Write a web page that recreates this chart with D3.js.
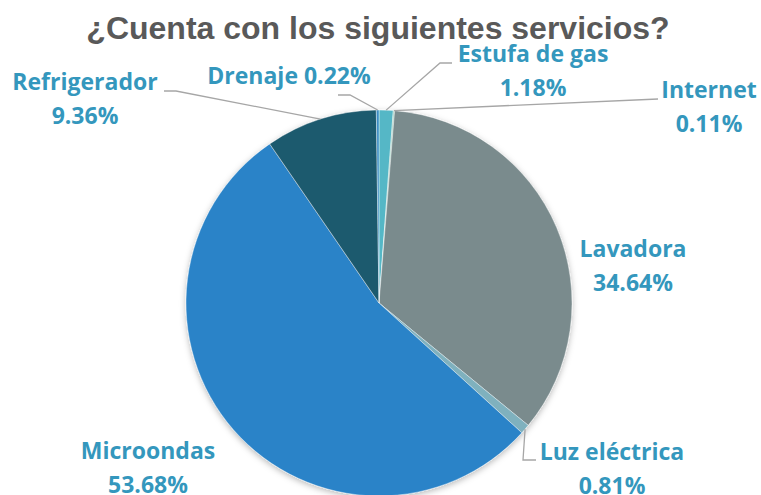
<!DOCTYPE html>
<html lang="es">
<head>
<meta charset="UTF-8">
<title>¿Cuenta con los siguientes servicios?</title>
<script src="https://d3js.org/d3.v7.min.js"></script>
<style>
    body { margin: 0; padding: 0; background: #fff; }
    svg { display: block; }
    .lbl { font-family: 'Open Sans', Lato, sans-serif; font-weight: 700; font-size: 23px; fill: #3497bd; }
    .title { font-family: 'Liberation Sans', Arial, sans-serif; font-weight: 700; font-size: 32px; fill: #595959; }
</style>
</head>
<body>
<div id="chart"></div>
<script>
// data
var categories = ["Estufa de gas", "Internet", "Lavadora", "Luz eléctrica", "Microondas", "Refrigerador", "Drenaje"];
var values = [1.18, 0.11, 34.64, 0.81, 53.68, 9.36, 0.22];
var sliceColors = ["#55b7c6", "#9fd0c2", "#7a8b8d", "#7fb1be", "#2983c8", "#1f5a6e", "#3a8dc4"];

var width = 761, height = 495;
var cx = 379, cy = 303, radius = 193;

// label layout: x, baseline of first line, two lines?, leader elbow points
var labelPos = {
    "Estufa de gas": { x: 533, y: 62, split: true, elbow: [[440, 63], [452, 63]] },
    "Internet":      { x: 709, y: 98, split: true, elbow: [[658, 99]] },
    "Lavadora":      { x: 633, y: 257, split: true, elbow: null },
    "Luz eléctrica": { x: 612, y: 460, split: true, elbow: [[523, 460], [536, 460]] },
    "Microondas":    { x: 148, y: 459, split: true, elbow: null },
    "Refrigerador":  { x: 85, y: 90, split: true, elbow: [[176, 91], [164, 91]] },
    "Drenaje":       { x: 289, y: 84, split: false, elbow: [[350, 95], [338, 95]] }
};

var data = categories.map(function(c, i) { return { name: c, value: values[i] }; });

var svg = d3.select("#chart").append("svg")
    .attr("width", width)
    .attr("height", height);

var defs = svg.append("defs");
var f = defs.append("filter").attr("id", "shadow")
    .attr("x", "-10%").attr("y", "-10%").attr("width", "120%").attr("height", "120%");
f.append("feDropShadow")
    .attr("dx", 0).attr("dy", 2)
    .attr("stdDeviation", 3)
    .attr("flood-color", "#000")
    .attr("flood-opacity", 0.28);

svg.append("text")
    .attr("class", "title")
    .attr("x", 378)
    .attr("y", 39)
    .attr("text-anchor", "middle")
    .text("¿Cuenta con los siguientes servicios?");

var color = d3.scaleOrdinal().domain(categories).range(sliceColors);

var pie = d3.pie().sort(null).value(function(d) { return d.value; });
var arcs = pie(data);

var arc = d3.arc().innerRadius(0).outerRadius(radius);

var g = svg.append("g")
    .attr("transform", "translate(" + cx + "," + cy + ")");

g.append("g")
    .attr("filter", "url(#shadow)")
    .selectAll("path")
    .data(arcs)
    .enter()
    .append("path")
    .attr("d", arc)
    .attr("fill", function(d) { return color(d.data.name); })
    .attr("stroke", "#fff")
    .attr("stroke-width", 0.4);

// leader lines
arcs.forEach(function(a) {
    var lp = labelPos[a.data.name];
    if (!lp.elbow) return;
    var mid = (a.startAngle + a.endAngle) / 2;
    var start = [cx + radius * Math.sin(mid), cy - radius * Math.cos(mid)];
    var pts = [start].concat(lp.elbow);
    svg.append("polyline")
        .attr("points", pts.map(function(p) { return p.join(","); }).join(" "))
        .attr("fill", "none")
        .attr("stroke", "#a6a6a6")
        .attr("stroke-width", 1.3);
});

// labels
arcs.forEach(function(a) {
    var lp = labelPos[a.data.name];
    var pct = a.data.value.toFixed(2) + "%";
    var t = svg.append("text")
        .attr("class", "lbl")
        .attr("text-anchor", "middle")
        .attr("x", lp.x)
        .attr("y", lp.y);
    if (lp.split) {
        t.append("tspan").attr("x", lp.x).text(a.data.name);
        t.append("tspan").attr("x", lp.x).attr("dy", 34).text(pct);
    } else {
        t.text(a.data.name + " " + pct);
    }
});
</script>
</body>
</html>
